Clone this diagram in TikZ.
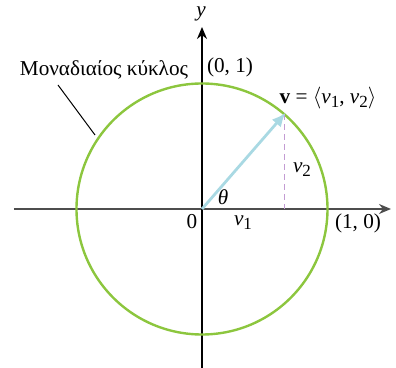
\documentclass[tikz,border=0pt]{standalone}
\usepackage{fontspec}
\setmainfont{Liberation Serif}
\usetikzlibrary{arrows.meta}
\definecolor{circgreen}{HTML}{8CC63E}
\definecolor{vecblue}{HTML}{A9D9E3}
\definecolor{dashpurple}{HTML}{C39BD3}
\definecolor{axisgray}{HTML}{4D4D4D}
\newcommand{\sv}[2]{\textit{#1}\raisebox{-0.4ex}{\fontsize{8.5}{10}\selectfont #2}}

\begin{document}
\begin{tikzpicture}[x=0.5pt, y=0.5pt,
  axis/.style={line width=0.7pt, -{Stealth[length=6pt,width=5pt]}},
  lbl/.style={inner sep=1pt, font=\fontsize{10.6}{12}\selectfont}]
\useasboundingbox (-202,-159) rectangle (194,209);
\coordinate (O) at (0,0);
\coordinate (xl) at (-188,0);
\coordinate (xr) at (189,0);
\coordinate (yb) at (0,-159);
\coordinate (yt) at (0,182);
\coordinate (P) at (49:125.5);
% axes
\draw[axis, color=axisgray] (xl) -- (xr);
\draw[axis, color=black] (yb) -- (yt);
% unit circle
\draw[line width=1.2pt, color=circgreen] (O) circle[radius=125.5];
% vector and its y part
\draw[line width=0.6pt, dashed, dash pattern=on 3pt off 2pt, color=dashpurple] (P) -- (P |- O);
\draw[line width=1.4pt, color=vecblue, -{Latex[length=7pt,width=6pt]}, shorten >=-1pt] (O) -- (P);
% labels
\node[lbl] (cap) at (-98,139) {Μοναδιαίος κύκλος};
\coordinate (pin) at (-144,124);
\coordinate (touch) at (-107,74);
\draw[line width=0.5pt] (pin) -- (touch);
\node[lbl] (ylab) at (-1,195) {\textit{y}};
\node[lbl] (top) at (28,142) {(0, 1)};
\node[lbl] (right) at (156,-14) {(1, 0)};
\node[lbl] (zero) at (-10,-13) {0};
\node[lbl] (vlab) at (126,111) {\textbf{v} = $\langle$\sv{v}{1}, \sv{v}{2}$\rangle$};
\node[lbl] (vtwo) at (100,39) {\sv{v}{2}};
\node[lbl] (vone) at (41,-14) {\sv{v}{1}};
\node[lbl] (theta) at (21,12) {\textit{θ}};
\end{tikzpicture}
\end{document}
